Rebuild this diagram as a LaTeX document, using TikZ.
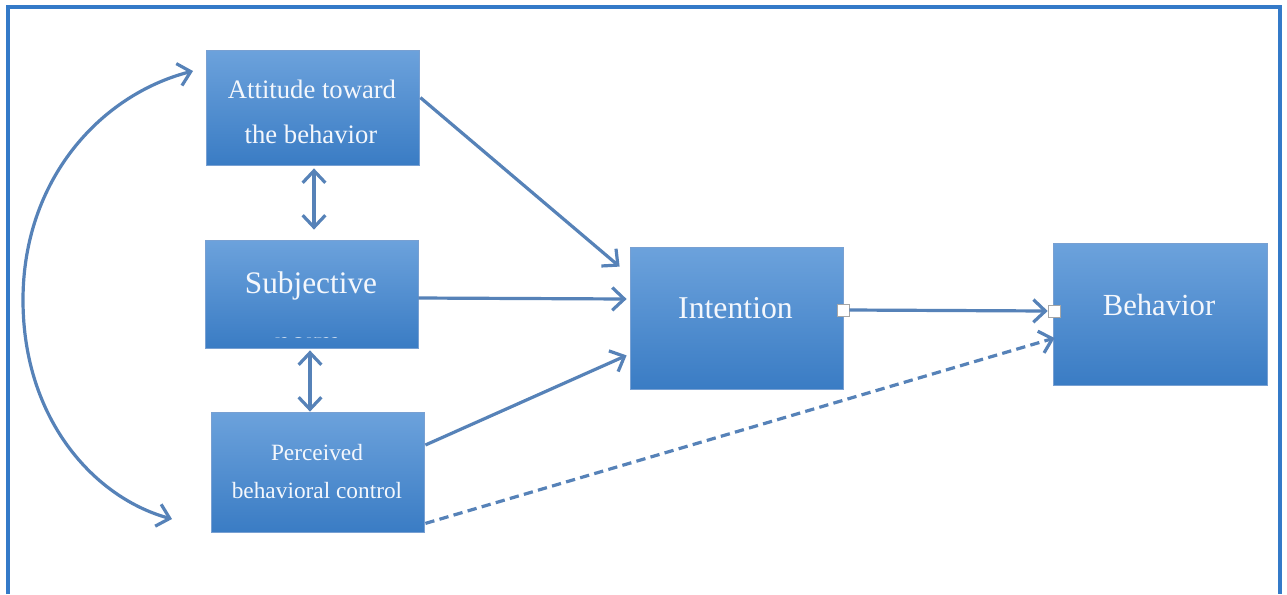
\documentclass[tikz,border=0pt]{standalone}
\usepackage{fontspec}
\setmainfont{Liberation Serif}
\newfontfamily\boxfont{Liberation Serif}
\usetikzlibrary{arrows.meta,calc}

\definecolor{framec}{RGB}{52,122,200}
\definecolor{arrc}{RGB}{86,130,184}
\definecolor{boxtop}{RGB}{108,162,220}
\definecolor{boxbot}{RGB}{58,124,196}
\definecolor{boxedge}{RGB}{120,160,210}
\definecolor{txtc}{RGB}{244,247,252}

\begin{document}
\begin{tikzpicture}[x=0.75pt,y=-0.75pt,
  box/.style={rectangle, draw=boxedge, line width=0.6pt, top color=boxtop, bottom color=boxbot, inner sep=0pt},
  lbl/.style={text=txtc, anchor=base, inner sep=0pt},
  conn/.style={draw=arrc, line width=2.4pt, >={Straight Barb[length=9pt,width=17pt]}},
  sq/.style={rectangle, draw=gray!70, fill=white, line width=0.5pt, minimum size=9pt, inner sep=0pt}]

\useasboundingbox (0,0) rectangle (1287,594);
\fill[white] (0,0) rectangle (1287,594);
\draw[framec, line width=3pt] (8,594) -- (8,7) -- (1280,7) -- (1280,594);

% boxes
\node[box, minimum width=159.75pt, minimum height=86.25pt] (att) at (312.5,107.5) {};
\node[box, minimum width=159.75pt, minimum height=81pt] (sub) at (311.5,294) {};
\node[box, minimum width=159.75pt, minimum height=90pt] (per) at (317.5,472) {};
\node[box, minimum width=159.75pt, minimum height=106.5pt] (int) at (736.5,318) {};
\node[box, minimum width=160.5pt, minimum height=106.5pt] (beh) at (1160,314) {};

% texts
\node[lbl, font=\boxfont\fontsize{20}{24}\selectfont] (attA) at (312,98) {Attitude toward};
\node[lbl, font=\boxfont\fontsize{20}{24}\selectfont] (attB) at (311,143) {the behavior};
\node[lbl, font=\boxfont\fontsize{23.5}{28}\selectfont] (subA) at (311,293) {Subjective};
\begin{scope}
  \clip (200,300) rectangle (420,337);
  \node[lbl, font=\boxfont\fontsize{23.5}{28}\selectfont] (subB) at (308,352) {norm};
\end{scope}
\node[lbl, font=\boxfont\fontsize{17.5}{21}\selectfont] (perA) at (317,460) {Perceived};
\node[lbl, font=\boxfont\fontsize{17.5}{21}\selectfont] (perB) at (317,498) {behavioral control};
\node[lbl, font=\boxfont\fontsize{23.8}{28}\selectfont] (intT) at (735.5,318) {Intention};
\node[lbl, font=\boxfont\fontsize{23}{28}\selectfont] (behT) at (1159,315) {Behavior};

% connectors
\draw[conn,->] ($(att.north east)+(1,48)$) -- ($(int.north west)+(-10,20)$);
\draw[conn,->] ($(sub.east)+(0,4)$) -- ($(int.west)+(-3,-19)$);
\draw[conn,->] ($(per.east)+(1,-27)$) -- ($(int.south west)+(-3,-34)$);
\draw[conn,<->] ($(att.south)+(1.5,3)$) -- ($(sub.north)+(2.5,-10)$);
\draw[conn,<->] ($(sub.south)+(-1.5,2)$) -- ($(per.north)+(-7.5,0)$);
\draw[conn,->,dash pattern=on 7pt off 4pt] ($(per.south east)+(1,-9)$) -- ($(beh.west)+(2,24)$);

\coordinate (cT) at (193,71);
\coordinate (cB) at (172,519);
\draw[conn,<->] (cT) .. controls (100,95) and (23,180) .. (23,300) .. controls (23,420) and (95,498) .. (cB);

\node[sq] (sqA) at (843,310) {};
\node[sq] (sqB) at (1054,311) {};
\draw[conn,->] (sqA.east) -- (sqB.west);
\node[sq] (sqB2) at (sqB) {};
\end{tikzpicture}
\end{document}
